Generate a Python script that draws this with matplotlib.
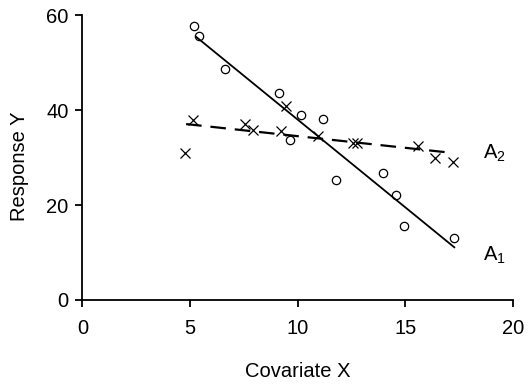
import matplotlib
matplotlib.use("Agg")
import matplotlib.pyplot as plt
import numpy as np

plt.rcParams['font.family'] = ['Liberation Sans', 'DejaVu Sans']
plt.rcParams['mathtext.fontset'] = 'custom'
plt.rcParams['mathtext.rm'] = 'Liberation Sans'
plt.rcParams['mathtext.it'] = 'Liberation Sans:italic'

# Group A1 (circles)
a1_x = [5.18, 5.41, 6.64, 9.14, 10.15, 11.2, 9.64, 11.8, 13.96, 14.58, 14.93, 17.28]
a1_y = [57.7, 55.6, 48.6, 43.6, 38.9, 38.2, 33.7, 25.3, 26.7, 22.2, 15.6, 13.0]
a1_line_x = [5.29, 17.28]
a1_line_y = [55.4, 11.1]

# Group A2 (crosses)
a2_x = [4.79, 5.16, 7.57, 7.91, 9.25, 9.45, 10.96, 12.57, 12.77, 15.6, 16.37, 17.2]
a2_y = [30.9, 37.9, 37.05, 35.9, 35.6, 40.8, 34.5, 33.0, 33.1, 32.4, 29.8, 29.1]
a2_line_x = [4.82, 17.14]
a2_line_y = [37.05, 31.0]

x_ticks = [0, 5, 10, 15, 20]
y_ticks = [0, 20, 40, 60]

FS = 14.5

fig = plt.figure(figsize=(5.28, 3.85), dpi=100)
ax = fig.add_axes([0.156, 0.2208, 0.8153, 0.740])

ax.plot(a1_line_x, a1_line_y, color='black', lw=1.3, clip_on=False)
ax.plot(a2_line_x, a2_line_y, color='black', lw=1.6, ls=(0, (7, 4)), clip_on=False)
ax.plot(a1_x, a1_y, ls='none', marker='o', ms=6, mfc='none', mec='black', mew=0.9, clip_on=False)
ax.plot(a2_x, a2_y, ls='none', marker='x', ms=7.5, mec='black', mew=0.9, clip_on=False)

ax.text(18.6, 30.8, r'A$_2$', fontsize=FS, ha='left', va='center')
ax.text(18.6, 9.3, r'A$_1$', fontsize=FS, ha='left', va='center')

ax.set_xlim(0, 20)
ax.set_ylim(0, 60)
ax.set_xticks(x_ticks)
ax.set_yticks(y_ticks)
ax.spines['top'].set_visible(False)
ax.spines['right'].set_visible(False)
ax.spines['left'].set_linewidth(1.3)
ax.spines['bottom'].set_linewidth(1.3)
ax.tick_params(axis='x', direction='out', length=5, width=1.3, labelsize=FS, pad=9)
ax.tick_params(axis='y', direction='out', length=5, width=1.3, labelsize=FS, pad=5)

ax.set_xlabel('Covariate X', fontsize=FS, labelpad=17)
ax.set_ylabel('Response Y', fontsize=FS)
ax.yaxis.set_label_coords(-0.125, 0.47)

fig.savefig('out.png', dpi=100)
